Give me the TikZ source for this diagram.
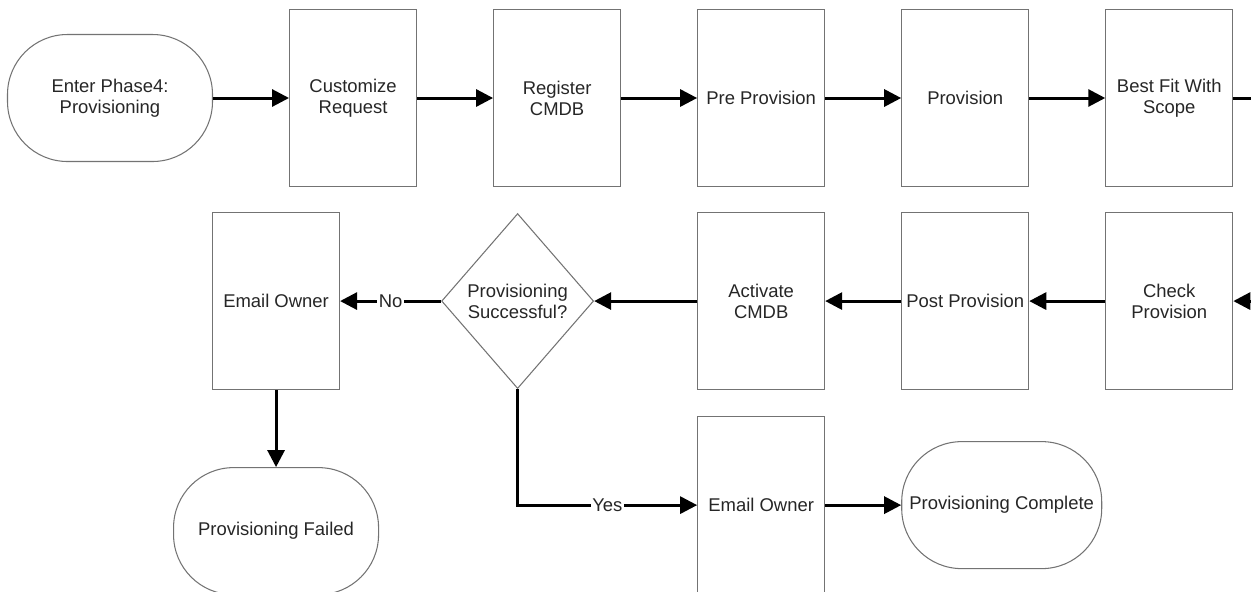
\documentclass[tikz,border=0pt]{standalone}
\usepackage{fontspec}
\setmainfont{Liberation Sans}
\usetikzlibrary{arrows.meta, positioning, shapes.geometric}

\begin{document}
\begin{tikzpicture}[node distance=0.5cm and 1.52cm,
  every node/.style={font=\fontsize{10.5}{12}\selectfont, text=black!85},
  block/.style={rectangle, draw=black!55, line width=0.6pt, align=center,
    minimum width=2.54cm, minimum height=3.54cm, inner sep=2pt},
  terminal/.style={rectangle, draw=black!55, line width=0.6pt, align=center,
    rounded corners=1.2cm, minimum width=4.1cm, minimum height=2.54cm},
  decision/.style={diamond, draw=black!55, line width=0.6pt, align=center,
    aspect=0.87, minimum width=3.04cm, minimum height=3.5cm, inner sep=0pt},
  arrow/.style={line width=1.7pt, -{Triangle[length=0.34cm, width=0.34cm]}},
  label/.style={fill=white, inner sep=1pt}]

\useasboundingbox (0,0) rectangle (25.02,-11.82);

\node[terminal] (enter) at (2.2,-1.96) {Enter Phase4:\\Provisioning};
\node[block, right=of enter] (customize) {Customize\\Request};
\node[block, right=of customize] (register) {Register\\CMDB};
\node[block, right=of register] (preprov) {Pre Provision};
\node[block, right=of preprov] (prov) {Provision};
\node[block, right=of prov] (bestfit) {Best Fit With\\Scope};
\node[block, below=of bestfit] (check) {Check\\Provision};
\node[block, left=of check] (postprov) {Post Provision};
\node[block, left=of postprov] (activate) {Activate\\CMDB};
\node[decision, left=2.06cm of activate] (success) {Provisioning\\Successful?};
\node[block, left=2.02cm of success] (mailfail) {Email Owner};
\node[terminal, below=1.54cm of mailfail] (failed) {Provisioning Failed};
\node[block, below=0.52cm of activate] (mailok) {Email Owner};
\node[terminal, right=of mailok, minimum width=4cm] (complete) {Provisioning Complete};

\draw[arrow] (enter) -- (customize);
\draw[arrow] (customize) -- (register);
\draw[arrow] (register) -- (preprov);
\draw[arrow] (preprov) -- (prov);
\draw[arrow] (prov) -- (bestfit);
\draw[arrow] (bestfit.east) -- ++(0.47,0) |- (check.east);
\draw[arrow] (check) -- (postprov);
\draw[arrow] (postprov) -- (activate);
\draw[arrow] (activate) -- (success);
\draw[arrow] (success) -- node[label]{No} (mailfail);
\draw[arrow] (mailfail) -- (failed);
\draw[arrow] (success.south) |- node[label, pos=0.75]{Yes} (mailok.west);
\draw[arrow] (mailok) -- (complete);

\end{tikzpicture}
\end{document}
